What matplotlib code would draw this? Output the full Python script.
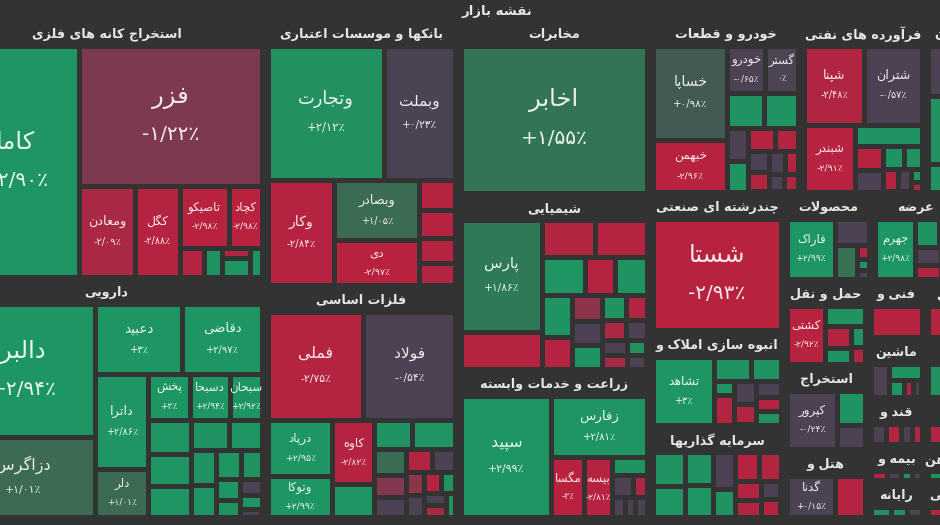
import numpy as np
import matplotlib
matplotlib.use("Agg")
import matplotlib.pyplot as plt
from matplotlib.patches import Rectangle

# ------------------------------------------------------------------ data
TITLE = 'نقشه بازار'

# sector titles (as displayed) and sector sizes
sector_titles = ['استخراج کانه های فلزی', 'دارویی', 'بانکها و موسسات اعتباری', 'فلزات اساسی',
                 'مخابرات', 'شیمیایی', 'زراعت و خدمات وابسته', 'خودرو و قطعات',
                 'فرآورده های نفتی', 'سیمان', 'چندرشته ای صنعتی', 'انبوه سازی املاک و',
                 'سرمایه گذاریها', 'محصولات', 'عرضه', '', 'حمل و نقل', 'استخراج', 'هتل و',
                 'فنی و', 'ماشین', 'قند و', 'بیمه و', 'رایانه', 'کاشی', 'کانی', 'چاپ',
                 'سنگ آهن', 'تخصصی']
sector_cap = [81786, 76080, 51338, 44776, 33408, 33792, 28416, 26123, 21452, 10380,
              18492, 12730, 12328, 7656, 7656, 2175, 7140, 7140, 5712, 3306, 3420, 2679,
              2052, 2109, 3480, 3600, 2820, 2160, 2220]

metal_names = ['کاما', 'فزر', 'ومعادن', 'کگل', 'تاصیکو', 'کچاد', '', '', '', '', '']
metal_chg = [2.90, -1.22, -2.09, -2.88, -2.98, -2.98, -2.7, 2.6, -2.5, 2.8, 2.7]
metal_cap = [29568, 25620, 5096, 4095, 3038, 2046, 700, 520, 300, 520, 338]

pharma_names = ['دالبر', 'دزاگرس', 'دعبید', 'دقاضی', 'داترا', 'دلر', 'پخش', 'دسبحا', 'سبحان'] + [''] * 14
pharma_chg = [2.94, 1.01, 3.00, 2.97, 2.86, 1.01, 3.00, 2.94, 2.92,
              2.9, 2.8, 2.95, 2.7, 2.99, 2.6, 2.85, 2.9, 2.5, 2.8, 2.2, 0.3, 2.9, -0.2]
pharma_cap = [19363, 11416, 6134, 5605, 4988, 2494, 1911, 1820, 1456,
              1500, 1400, 1300, 1150, 1000, 900, 800, 700, 600, 500, 400, 350, 300, 158]

bank_names = ['وتجارت', 'وبملت', 'وکار', 'وبصادر', 'دی', '', '', '', '']
bank_chg = [2.12, 0.23, -2.84, 1.05, -2.97, -2.9, -2.8, -2.9, -2.7]
bank_cap = [15669, 9482, 6949, 5100, 3783, 1065, 1000, 870, 775]

basic_names = ['فملی', 'فولاد', 'درپاد', 'وتوکا', 'کاوه'] + [''] * 15
basic_chg = [-2.75, -0.54, 2.95, 2.99, -2.82, 2.8, 2.7, 2.9,
             1.2, -1.3, -0.4, -2.6, -0.3, -1.5, 0.2, -2.8, 2.5, -0.5, -2.2, 2.6]
basic_cap = [10416, 9874, 3612, 2612, 2720, 1381, 1100, 1220,
             800, 700, 600, 600, 500, 450, 400, 350, 300, 250, 250, 200]

tel_names = ['اخابر']
tel_chg = [1.55]
tel_cap = [27342]

chem_names = ['پارس'] + [''] * 19
chem_chg = [1.86, -2.8, -2.7, -2.9, 2.8, -2.9, 2.7,
            2.6, -2.8, -1.5, -0.3, 2.7, 2.5, -2.6, -2.2, -0.4, -0.2, -2.0, 2.3, -0.6]
chem_cap = [9169, 2975, 1995, 1976, 1591, 1110, 1166,
            1250, 950, 800, 750, 700, 600, 520, 470, 420, 380, 330, 290, 273]

agri_names = ['سپید', 'زفارس', 'مگسا', 'بیسه', '', '', '', '', '', '']
agri_chg = [2.99, 2.81, -3.00, -2.81, 2.6, -0.5, -2.5, -0.3, -0.2, 0.1]
agri_cap = [11011, 5890, 1918, 1652, 600, 450, 300, 250, 200, 236]

auto_names = ['خساپا', 'خبهمن', 'خودرو', 'گستر'] + [''] * 12
auto_chg = [0.98, -2.96, -0.65, 0.0, 2.6, 2.7,
            -0.3, 2.5, -2.8, -2.6, -0.4, -2.9, -0.5, -2.7, -0.2, -2.5]
auto_cap = [7040, 3837, 1763, 1551, 1350, 1188, 700, 650, 600, 500, 450, 400, 350, 300, 250, 242]

oil_names = ['شپنا', 'شتران', 'شبندر'] + [''] * 9
oil_chg = [-2.48, -0.57, -2.91, 2.7, -2.8, -0.4, 2.6, 2.5, -2.7, -0.3, 2.4, -2.6]
oil_cap = [4740, 4582, 3417, 1407, 700, 600, 500, 400, 350, 300, 132, 100]

cutA_names = ['', 'کرمان', '', '']
cutA_chg = [-0.4, 2.5, 2.6, -0.5]
cutA_cap = [2700, 3672, 800, 712]

multi_names = ['شستا']
multi_chg = [-2.93]
multi_cap = [14208]

build_names = ['تشاهد'] + [''] * 9
build_chg = [3.00, 2.7, 2.6, 2.8, -2.7, -0.4, -2.5, -0.3, -2.8, 2.4]
build_cap = [4182, 900, 700, 300, 600, 500, 450, 400, 350, 322]

invest_names = [''] * 12
invest_chg = [2.7, 2.8, 2.6, 2.9, -0.4, 2.5, -2.8, -2.6, -2.7, -2.5, -0.3, -2.9]
invest_cap = [1100, 1000, 950, 900, 800, 600, 700, 650, 500, 420, 350, 350]

prod_names = ['فاراک', '', '', '', '', '']
prod_chg = [2.99, -0.3, 1.3, -2.8, 2.6, -0.2]
prod_cap = [2910, 871, 748, 170, 120, 101]

arze_names = ['جهرم', '', '', '', '', '', '']
arze_chg = [2.98, 2.7, 2.6, -0.3, -2.6, 2.5, -2.4]
arze_cap = [2430, 700, 500, 450, 350, 300, 190]

cutB_names = ['', '']
cutB_chg = [-2.6, 2.5]
cutB_cap = [600, 540]

haml_names = ['کشتی', '', '', '', '', '']
haml_chg = [-2.92, 2.7, -2.7, 2.6, 2.5, -2.6]
haml_cap = [2204, 800, 600, 400, 300, 220]

ext_names = ['کپرور', '', '']
ext_chg = [-0.24, 2.7, -0.4]
ext_cap = [2929, 935, 660]

hotel_names = ['گدنا', '']
hotel_chg = [0.15, -2.8]
hotel_cap = [1989, 1209]

fani_names = ['']
fani_chg = [-2.8]
fani_cap = [1581]

mash_names = [''] * 5
mash_chg = [-0.3, 2.6, 2.7, -2.6, -0.2]
mash_cap = [600, 550, 250, 150, 133]

ghand_names = [''] * 4
ghand_chg = [-0.3, -2.7, -0.4, -2.5]
ghand_cap = [300, 300, 220, 200]

bime_names = [''] * 4
bime_chg = [-2.6, -0.3, 2.6, -0.2]
bime_cap = [150, 120, 100, 89]

ray_names = [''] * 3
ray_chg = [2.6, 2.7, -0.3]
ray_cap = [200, 160, 150]

c1_names, c1_chg, c1_cap = [''], [-2.7], [1674]
c2_names, c2_chg, c2_cap = ['', ''], [2.5, -0.4], [1000, 782]
c3_names, c3_chg, c3_cap = ['', ''], [-2.6, -0.3], [600, 480]
c4_names, c4_chg, c4_cap = ['', ''], [2.6, -0.3], [300, 186]
c5_names, c5_chg, c5_cap = ['', ''], [-2.7, 2.5], [300, 240]

# ------------------------------------------------------------------ layout structure
# 'H' = side by side, 'V' = stacked, 'S' = squarified cluster, int = leaf index
sector_tree = ('H', [('V', [0, 1]), ('V', [2, 3]), ('V', [4, 5, 6]),
                     ('V', [('H', [7, 8, 9]),
                            ('H', [('V', [10, 11, 12]),
                                   ('V', [('H', [13, 14, 15]),
                                          ('H', [('V', [16, 17, 18]),
                                                 ('V', [19, 20, 21, 22, 23]),
                                                 ('V', [24, 25, 26, 27, 28])])])])])])

stock_trees = [
    ('H', [0, ('V', [1, ('H', [2, 3, ('V', [('H', [4, 5]), ('S', [6, 7, 8, 9, 10])])])])]),
    ('H', [('V', [0, 1]), ('V', [('H', [2, 3]), ('H', [('V', [4, 5]),
                                                      ('V', [('H', [6, 7, 8]), ('S', list(range(9, 23)))])])])]),
    ('V', [('H', [0, 1]), ('H', [2, ('V', [3, 4]), ('V', [5, 6, 7, 8])])]),
    ('V', [('H', [0, 1]), ('H', [('V', [2, 3]), ('V', [4, 5]),
                                ('V', [('H', [6, 7]), ('S', list(range(8, 20)))])])]),
    0,
    ('H', [('V', [0, 1]), ('V', [('H', [2, 3]), ('H', [4, 5, 6]), ('S', list(range(7, 20)))])]),
    ('H', [0, ('V', [1, ('H', [2, 3, ('S', [4, 5, 6, 7, 8, 9])])])]),
    ('H', [('V', [0, 1]), ('V', [('H', [2, 3]), ('H', [4, 5]), ('S', list(range(6, 16)))])]),
    ('V', [('H', [0, 1]), ('H', [2, ('V', [3, ('S', list(range(4, 12)))])])]),
    ('V', [0, 1, ('H', [2, 3])]),
    0,
    ('H', [0, ('S', list(range(1, 10)))]),
    ('S', list(range(12))),
    ('H', [0, ('V', [1, ('H', [2, ('V', [3, 4, 5])])])]),
    ('H', [0, ('S', [1, 2, 3, 4, 5, 6])]),
    ('V', [0, 1]),
    ('H', [0, ('S', [1, 2, 3, 4, 5])]),
    ('H', [0, ('V', [1, 2])]),
    ('H', [0, 1]),
    0,
    ('S', [0, 1, 2, 3, 4]),
    ('S', [0, 1, 2, 3]),
    ('H', [0, 1, 2, 3]),
    ('H', [0, 1, 2]),
    0, ('H', [0, 1]), ('H', [0, 1]), ('H', [0, 1]), ('H', [0, 1]),
]

sector_stocks = [
    (metal_names, metal_chg, metal_cap), (pharma_names, pharma_chg, pharma_cap),
    (bank_names, bank_chg, bank_cap), (basic_names, basic_chg, basic_cap),
    (tel_names, tel_chg, tel_cap), (chem_names, chem_chg, chem_cap),
    (agri_names, agri_chg, agri_cap), (auto_names, auto_chg, auto_cap),
    (oil_names, oil_chg, oil_cap), (cutA_names, cutA_chg, cutA_cap),
    (multi_names, multi_chg, multi_cap), (build_names, build_chg, build_cap),
    (invest_names, invest_chg, invest_cap), (prod_names, prod_chg, prod_cap),
    (arze_names, arze_chg, arze_cap), (cutB_names, cutB_chg, cutB_cap),
    (haml_names, haml_chg, haml_cap), (ext_names, ext_chg, ext_cap),
    (hotel_names, hotel_chg, hotel_cap), (fani_names, fani_chg, fani_cap),
    (mash_names, mash_chg, mash_cap), (ghand_names, ghand_chg, ghand_cap),
    (bime_names, bime_chg, bime_cap), (ray_names, ray_chg, ray_cap),
    (c1_names, c1_chg, c1_cap), (c2_names, c2_chg, c2_cap), (c3_names, c3_chg, c3_cap),
    (c4_names, c4_chg, c4_cap), (c5_names, c5_chg, c5_cap),
]

# ------------------------------------------------------------------ Persian shaping
FORMS = {
    '\u0621': ('\uFE80', None, None, None),
    '\u0622': ('\uFE81', '\uFE82', None, None),
    '\u0623': ('\uFE83', '\uFE84', None, None),
    '\u0624': ('\uFE85', '\uFE86', None, None),
    '\u0625': ('\uFE87', '\uFE88', None, None),
    '\u0626': ('\uFE89', '\uFE8A', '\uFE8B', '\uFE8C'),
    '\u0627': ('\uFE8D', '\uFE8E', None, None),
    '\u0628': ('\uFE8F', '\uFE90', '\uFE91', '\uFE92'),
    '\u0629': ('\uFE93', '\uFE94', None, None),
    '\u062A': ('\uFE95', '\uFE96', '\uFE97', '\uFE98'),
    '\u062B': ('\uFE99', '\uFE9A', '\uFE9B', '\uFE9C'),
    '\u062C': ('\uFE9D', '\uFE9E', '\uFE9F', '\uFEA0'),
    '\u062D': ('\uFEA1', '\uFEA2', '\uFEA3', '\uFEA4'),
    '\u062E': ('\uFEA5', '\uFEA6', '\uFEA7', '\uFEA8'),
    '\u062F': ('\uFEA9', '\uFEAA', None, None),
    '\u0630': ('\uFEAB', '\uFEAC', None, None),
    '\u0631': ('\uFEAD', '\uFEAE', None, None),
    '\u0632': ('\uFEAF', '\uFEB0', None, None),
    '\u0633': ('\uFEB1', '\uFEB2', '\uFEB3', '\uFEB4'),
    '\u0634': ('\uFEB5', '\uFEB6', '\uFEB7', '\uFEB8'),
    '\u0635': ('\uFEB9', '\uFEBA', '\uFEBB', '\uFEBC'),
    '\u0636': ('\uFEBD', '\uFEBE', '\uFEBF', '\uFEC0'),
    '\u0637': ('\uFEC1', '\uFEC2', '\uFEC3', '\uFEC4'),
    '\u0638': ('\uFEC5', '\uFEC6', '\uFEC7', '\uFEC8'),
    '\u0639': ('\uFEC9', '\uFECA', '\uFECB', '\uFECC'),
    '\u063A': ('\uFECD', '\uFECE', '\uFECF', '\uFED0'),
    '\u0641': ('\uFED1', '\uFED2', '\uFED3', '\uFED4'),
    '\u0642': ('\uFED5', '\uFED6', '\uFED7', '\uFED8'),
    '\u0643': ('\uFED9', '\uFEDA', '\uFEDB', '\uFEDC'),
    '\u0644': ('\uFEDD', '\uFEDE', '\uFEDF', '\uFEE0'),
    '\u0645': ('\uFEE1', '\uFEE2', '\uFEE3', '\uFEE4'),
    '\u0646': ('\uFEE5', '\uFEE6', '\uFEE7', '\uFEE8'),
    '\u0647': ('\uFEE9', '\uFEEA', '\uFEEB', '\uFEEC'),
    '\u0648': ('\uFEED', '\uFEEE', None, None),
    '\u0649': ('\uFEEF', '\uFEF0', None, None),
    '\u064A': ('\uFEF1', '\uFEF2', '\uFEF3', '\uFEF4'),
    '\u067E': ('\uFB56', '\uFB57', '\uFB58', '\uFB59'),
    '\u0686': ('\uFB7A', '\uFB7B', '\uFB7C', '\uFB7D'),
    '\u0698': ('\uFB8A', '\uFB8B', None, None),
    '\u06A9': ('\uFB8E', '\uFB8F', '\uFB90', '\uFB91'),
    '\u06AF': ('\uFB92', '\uFB93', '\uFB94', '\uFB95'),
    '\u06CC': ('\uFBFC', '\uFBFD', '\uFBFE', '\uFBFF'),
}
LAMALEF = {'\u0627': ('\uFEFB', '\uFEFC'), '\u0622': ('\uFEF5', '\uFEF6'),
           '\u0623': ('\uFEF7', '\uFEF8'), '\u0625': ('\uFEF9', '\uFEFA')}


def jtype(c):
    f = FORMS.get(c)
    if f is None:
        return 'U'
    if f[2] is not None:
        return 'D'
    if f[1] is not None:
        return 'R'
    return 'U'


def shape(s):
    res = []
    n = len(s)
    i = 0
    while i < n:
        c = s[i]
        if c not in FORMS:
            res.append(c)
            i += 1
            continue
        jp = i > 0 and jtype(s[i - 1]) == 'D' and jtype(c) != 'U'
        if c == '\u0644' and i + 1 < n and s[i + 1] in LAMALEF:
            res.append(LAMALEF[s[i + 1]][1 if jp else 0])
            i += 2
            continue
        jn = jtype(c) == 'D' and i + 1 < n and jtype(s[i + 1]) in ('D', 'R')
        f = FORMS[c]
        res.append(f[3] if (jp and jn) else f[1] if jp else f[2] if jn else f[0])
        i += 1
    return ''.join(reversed(res))


FA = str.maketrans('0123456789', '۰۱۲۳۴۵۶۷۸۹')


def fmt_pct(v):
    sign = '+' if v > 0 else ('-' if v < 0 else '')
    a = abs(v)
    s = f'{a:.0f}' if abs(a - round(a)) < 1e-9 else f'{a:.2f}'
    return sign + s.replace('.', '/').translate(FA) + '٪'


# ------------------------------------------------------------------ colours
C_STOPS = [(-3.0, '#b8223f'), (-2.0, '#a82945'), (-1.2, '#7c3a4f'), (-1.0, '#6a3c4e'),
           (-0.95, '#4d4254'), (0.95, '#4a4352'), (1.0, '#3d6a53'), (1.9, '#2d7b57'),
           (2.1, '#22905f'), (3.0, '#1d9663')]
_cx = [s[0] for s in C_STOPS]
_rgb = np.array([matplotlib.colors.to_rgb(s[1]) for s in C_STOPS])


def color_for(v):
    return tuple(np.interp(v, _cx, _rgb[:, k]) for k in range(3))


# ------------------------------------------------------------------ layout helpers
def total(node, w):
    if isinstance(node, int):
        return w[node]
    return sum(total(c, w) for c in node[1])


def squarify(vals, x0, y0, x1, y1):
    w, h = x1 - x0, y1 - y0
    tot = float(sum(vals))
    areas = [v * w * h / tot for v in vals]
    rects = []

    def worst(row, side):
        s = sum(row)
        return max(max(side * side * r / (s * s), s * s / (side * side * r)) for r in row)

    i = 0
    x, y = x0, y0
    while i < len(areas):
        side = min(w, h)
        row = [areas[i]]
        i += 1
        while i < len(areas) and worst(row + [areas[i]], side) <= worst(row, side):
            row.append(areas[i])
            i += 1
        s = sum(row)
        if w >= h:
            cw = s / h
            yy = y
            for a in row:
                rh = a / cw
                rects.append((x, yy, x + cw, yy + rh))
                yy += rh
            x += cw
            w -= cw
        else:
            rh = s / w
            xx = x
            for a in row:
                cw = a / rh
                rects.append((xx, y, xx + cw, y + rh))
                xx += cw
            y += rh
            h -= rh
    return rects


def layout(node, w, x0, y0, x1, y1, out):
    if isinstance(node, int):
        out.append((node, x0, y0, x1, y1))
        return
    kind, children = node
    if kind == 'S':
        for c, r in zip(children, squarify([w[c] for c in children], x0, y0, x1, y1)):
            out.append((c,) + r)
        return
    tots = [total(c, w) for c in children]
    s = float(sum(tots))
    pos = x0 if kind == 'H' else y0
    for c, t in zip(children, tots):
        if kind == 'H':
            d = (x1 - x0) * t / s
            layout(c, w, pos, y0, pos + d, y1, out)
        else:
            d = (y1 - y0) * t / s
            layout(c, w, x0, pos, x1, pos + d, out)
        pos += d


# ------------------------------------------------------------------ drawing
W, H = 940, 525
BG = '#333333'
MAP_X0, MAP_X1, MAP_Y0, MAP_Y1 = -52, 985, 22, 520   # the screenshot crops a wider map
HDR, SIDE, PAD = 24, 3, 2.5

fig = plt.figure(figsize=(W / 100, H / 100), dpi=100, facecolor=BG)
ax = fig.add_axes([0, 0, 1, 1])
ax.set_xlim(0, W)
ax.set_ylim(H, 0)
ax.set_facecolor(BG)
ax.axis('off')

FONT = ['DejaVu Sans']
PX = 72.0 / 100.0

ax.text(497, 11, shape(TITLE), ha='center', va='center', color='#e8e8e8',
        fontsize=9.5, fontweight='bold', family=FONT)

sectors = []
layout(sector_tree, sector_cap, MAP_X0, MAP_Y0, MAP_X1, MAP_Y1, sectors)

for si, sx0, sy0, sx1, sy1 in sectors:
    names, chg, cap = sector_stocks[si]
    title = sector_titles[si]
    if title:
        clip = Rectangle((sx0, sy0), sx1 - sx0, sy1 - sy0, transform=ax.transData,
                         facecolor='none', edgecolor='none')
        th = ax.text((sx0 + sx1) / 2, sy0 + 12.5, shape(title), ha='center', va='center',
                     color='#e6e6e6', fontsize=9.2, fontweight='bold', family=FONT)
        th.set_clip_path(clip)
    cells = []
    layout(stock_trees[si], cap, sx0 + SIDE, sy0 + HDR, sx1 - SIDE, sy1 - SIDE, cells)
    for ci, cx0, cy0, cx1, cy1 in cells:
        x, y = cx0 + PAD, cy0 + PAD
        w, h = cx1 - cx0 - 2 * PAD, cy1 - cy0 - 2 * PAD
        if w <= 0 or h <= 0:
            continue
        rect = Rectangle((x, y), w, h, facecolor=color_for(chg[ci]), edgecolor='none')
        ax.add_patch(rect)
        if names[ci]:
            root = np.sqrt(w * h)
            if w >= 118 and h >= 100:
                fs, fp = 17.5, 14.5
            else:
                fs = float(np.clip(5.0 + 0.065 * root, 8.5, 13.5))
                fp = float(np.clip(5.4 + 0.025 * root, 6.5, 9.0))
            fpx = fs / PX
            cx, cy = x + w / 2, y + h / 2
            t1 = ax.text(cx, cy - 0.8 * fpx, shape(names[ci]), ha='center', va='center',
                         color='white', alpha=0.9, fontsize=fs, family=FONT)
            t2 = ax.text(cx, cy + 0.78 * fpx, fmt_pct(chg[ci]), ha='center', va='center',
                         color='white', alpha=0.9, fontsize=fp, family=FONT)
            t1.set_clip_path(rect)
            t2.set_clip_path(rect)

fig.savefig('out.png', dpi=100, facecolor=BG)
